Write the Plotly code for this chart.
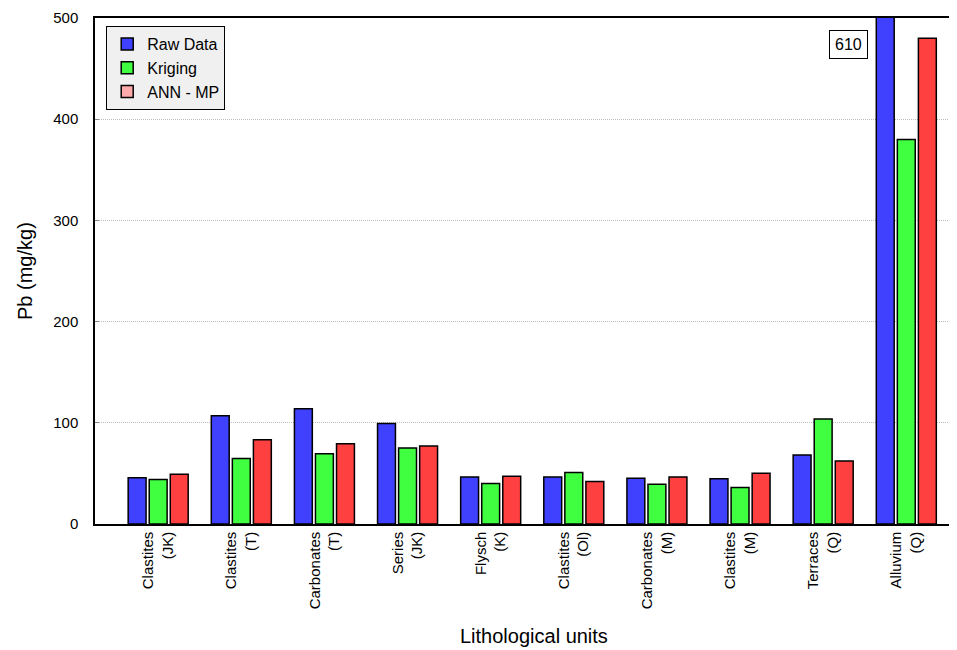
import plotly.graph_objects as go

categories = ["Clastites<br>(JK)", "Clastites<br>(T)", "Carbonates<br>(T)", "Series<br>(JK)",
              "Flysch<br>(K)", "Clastites<br>(Ol)", "Carbonates<br>(M)", "Clastites<br>(M)",
              "Terraces<br>(Q)", "Alluvium<br>(Q)"]
raw_data = [45.6, 107, 114, 99.4, 46.5, 46.5, 45.2, 44.6, 68.2, 610]
kriging = [43.9, 64.6, 69.5, 75.1, 40, 50.8, 39.3, 36, 103.7, 380]
ann_mp = [49.1, 83.3, 79.4, 77.1, 47.1, 41.9, 46.5, 50.1, 62.3, 480]

FONT = "Liberation Sans, Arial, sans-serif"
line = dict(color="black", width=1.5)

fig = go.Figure()
fig.add_trace(go.Bar(x=categories, y=raw_data, name="Raw Data", offsetgroup="1",
                     marker=dict(color="#4040ff", line=line)))
fig.add_trace(go.Bar(x=categories, y=kriging, name="Kriging", offsetgroup="2",
                     marker=dict(color="#40ff40", line=line)))
fig.add_trace(go.Bar(x=categories, y=ann_mp, name="ANN - MP", offsetgroup="3", showlegend=False,
                     marker=dict(color="#ff4040", line=line)))
# legend swatch (legend shows a lighter tone for ANN - MP)
fig.add_trace(go.Bar(x=[categories[0]], y=[None], name="ANN - MP", offsetgroup="3",
                     marker=dict(color="#ffaaaa", line=line)))

fig.add_annotation(x=8.3, y=474, xref="x", yref="y", text=f"{raw_data[-1]:.0f}",
                   showarrow=False, font=dict(size=16, color="black", family=FONT),
                   bordercolor="black", borderwidth=1, borderpad=5, bgcolor="white")

# axis titles
fig.add_annotation(x=-0.0812, y=0.5, xref="paper", yref="paper", text="Pb (mg/kg)",
                   textangle=-90, showarrow=False, xanchor="center", yanchor="middle",
                   font=dict(size=20, family=FONT, color="black"))
fig.add_annotation(x=0.509, y=-0.222, xref="paper", yref="paper", text="Lithological units",
                   showarrow=False, xanchor="center", yanchor="middle",
                   font=dict(size=20, family=FONT, color="black"))

# the page body adds an 8px offset, so margins are shifted accordingly
fig.update_layout(
    width=957, height=650,
    margin=dict(l=87, r=8, t=9.5, b=133.5),
    plot_bgcolor="white", paper_bgcolor="white",
    font=dict(family=FONT, color="black"),
    barmode="group", bargap=0.24, bargroupgap=0.15,
    legend=dict(x=0.013, y=0.984, xanchor="left", yanchor="top",
                bgcolor="#f0f0f0", bordercolor="black", borderwidth=1,
                font=dict(size=16, family=FONT), tracegroupgap=0, itemwidth=30),
    showlegend=True,
)
fig.update_xaxes(range=[-0.76, 9.61], tickangle=-90, tickfont=dict(size=15, family=FONT),
                 showline=True, linecolor="black", linewidth=1.5, mirror=True,
                 ticks="", showgrid=False, automargin=False)
fig.update_yaxes(range=[0, 500], tickvals=[0, 100, 200, 300, 400, 500],
                 tickfont=dict(size=15, family=FONT),
                 showline=True, linecolor="black", linewidth=1.5,
                 ticks="inside", ticklen=4, tickcolor="#888888", ticklabelstandoff=12,
                 showgrid=True, gridcolor="#bdbdbd", griddash="1px,1px", gridwidth=1,
                 zeroline=False, automargin=False)

fig.write_html("out.html")
